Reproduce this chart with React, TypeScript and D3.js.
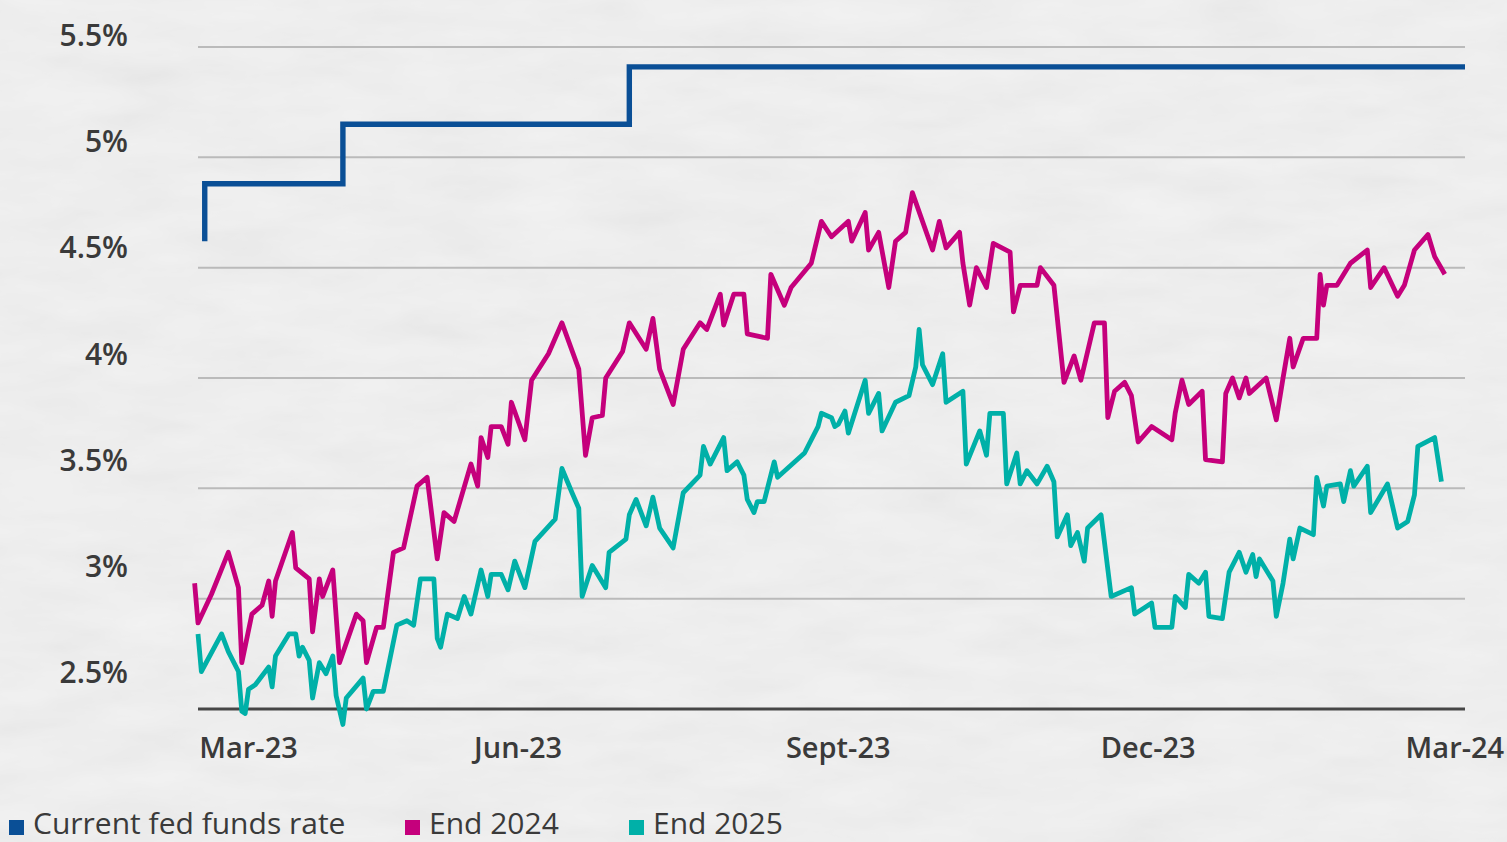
import React, { useEffect, useRef } from "react";
import * as d3 from "d3";

// x values are days counted from 1 Mar 2023, y values are rates in %
const fedFundsRate: [number, number][] = [
  [21, 4.62], [21, 4.88], [62, 5.15], [147, 5.41], [395, 5.41],
];

const end2024: [number, number][] = [
  [18, 3.07], [19, 2.89], [23, 3.02], [28, 3.21], [31, 3.05], [32, 2.71], [35, 2.93], [38, 2.97],
  [40, 3.08], [41, 2.92], [42, 3.08], [47, 3.3], [48, 3.14], [52, 3.09], [53, 2.85], [55, 3.09],
  [56, 3.01], [59, 3.13], [61, 2.71], [66, 2.93], [68, 2.9], [69, 2.71], [72, 2.87], [74, 2.87],
  [77, 3.21], [80, 3.23], [84, 3.51], [87, 3.55], [90, 3.18], [92, 3.39], [95, 3.35], [100, 3.61],
  [102, 3.51], [103, 3.73], [105, 3.64], [106, 3.78], [109, 3.78], [111, 3.7], [112, 3.89], [116, 3.72],
  [118, 3.99], [123, 4.11], [127, 4.25], [132, 4.04], [134, 3.65], [136, 3.82], [139, 3.83], [140, 4.0],
  [145, 4.12], [147, 4.25], [152, 4.13], [154, 4.27], [156, 4.04], [160, 3.88], [163, 4.13], [168, 4.25],
  [170, 4.22], [174, 4.38], [175, 4.24], [178, 4.38], [181, 4.38], [182, 4.2], [188, 4.18], [189, 4.47],
  [193, 4.33], [195, 4.41], [201, 4.52], [204, 4.71], [207, 4.64], [212, 4.71], [213, 4.62], [217, 4.75],
  [218, 4.58], [221, 4.66], [224, 4.41], [226, 4.62], [229, 4.66], [231, 4.84], [237, 4.58], [239, 4.71],
  [241, 4.59], [245, 4.66], [246, 4.52], [248, 4.33], [250, 4.5], [253, 4.41], [255, 4.61], [260, 4.57],
  [261, 4.3], [263, 4.42], [268, 4.42], [269, 4.5], [273, 4.42], [276, 3.98], [279, 4.1], [281, 3.99],
  [285, 4.25], [288, 4.25], [289, 3.82], [291, 3.94], [294, 3.98], [296, 3.92], [298, 3.71], [302, 3.78],
  [308, 3.72], [309, 3.84], [311, 3.99], [313, 3.88], [317, 3.94], [318, 3.63], [323, 3.62], [324, 3.93],
  [326, 4.0], [328, 3.91], [330, 4.0], [331, 3.93], [336, 4.0], [339, 3.81], [341, 4.0], [343, 4.18],
  [344, 4.05], [347, 4.18], [351, 4.18], [352, 4.47], [353, 4.33], [354, 4.42], [357, 4.42], [361, 4.52],
  [366, 4.58], [367, 4.41], [371, 4.5], [375, 4.37], [377, 4.42], [380, 4.58], [384, 4.65], [386, 4.55],
  [389, 4.47],
];

const end2025: [number, number][] = [
  [19, 2.84], [20, 2.67], [26, 2.84], [28, 2.76], [31, 2.67], [32, 2.49], [33, 2.48], [34, 2.59],
  [36, 2.61], [40, 2.69], [41, 2.6], [42, 2.74], [46, 2.84], [48, 2.84], [49, 2.74], [50, 2.78],
  [52, 2.72], [53, 2.55], [55, 2.71], [57, 2.66], [59, 2.74], [60, 2.56], [62, 2.43], [63, 2.55],
  [68, 2.64], [69, 2.5], [71, 2.58], [74, 2.58], [78, 2.88], [81, 2.9], [83, 2.88], [85, 3.09],
  [89, 3.09], [90, 2.82], [91, 2.78], [93, 2.93], [96, 2.91], [98, 3.01], [100, 2.93], [103, 3.13],
  [105, 3.01], [106, 3.11], [109, 3.11], [111, 3.04], [113, 3.17], [116, 3.05], [119, 3.26], [125, 3.36],
  [127, 3.59], [130, 3.48], [132, 3.41], [133, 3.01], [136, 3.15], [140, 3.05], [141, 3.21], [146, 3.27],
  [147, 3.38], [149, 3.45], [152, 3.33], [154, 3.46], [156, 3.32], [160, 3.23], [163, 3.48], [168, 3.56],
  [169, 3.69], [171, 3.61], [175, 3.73], [176, 3.58], [179, 3.62], [181, 3.56], [182, 3.45], [184, 3.39],
  [185, 3.44], [187, 3.44], [190, 3.62], [191, 3.55], [199, 3.66], [203, 3.78], [204, 3.84], [207, 3.82],
  [208, 3.78], [209, 3.79], [211, 3.85], [212, 3.75], [217, 3.99], [218, 3.84], [221, 3.93], [222, 3.76],
  [226, 3.89], [230, 3.92], [232, 4.05], [233, 4.22], [234, 4.06], [237, 3.97], [240, 4.11], [241, 3.89],
  [246, 3.94], [247, 3.61], [251, 3.76], [253, 3.65], [254, 3.84], [258, 3.84], [259, 3.52], [262, 3.66],
  [263, 3.52], [265, 3.58], [268, 3.52], [271, 3.6], [273, 3.53], [274, 3.28], [277, 3.38], [278, 3.24],
  [280, 3.3], [282, 3.17], [283, 3.32], [287, 3.38], [290, 3.01], [296, 3.05], [297, 2.93], [300, 2.96],
  [302, 2.98], [303, 2.87], [308, 2.87], [309, 3.01], [312, 2.96], [313, 3.11], [316, 3.07], [318, 3.12],
  [319, 2.92], [323, 2.91], [325, 3.12], [328, 3.21], [330, 3.12], [332, 3.2], [333, 3.1], [334, 3.18],
  [338, 3.08], [339, 2.92], [341, 3.07], [343, 3.27], [344, 3.18], [346, 3.32], [350, 3.29], [351, 3.55],
  [353, 3.42], [354, 3.51], [358, 3.52], [359, 3.44], [361, 3.58], [362, 3.51], [366, 3.6], [367, 3.39],
  [372, 3.52], [375, 3.32], [378, 3.35], [380, 3.47], [381, 3.69], [386, 3.73], [388, 3.53],
];

const yTicks = [2.5, 3, 3.5, 4, 4.5, 5, 5.5];
const yTickLabels = ["2.5%", "3%", "3.5%", "4%", "4.5%", "5%", "5.5%"];
const xTickDays = [34, 114, 209, 301, 392];
const xTickLabels = ["Mar-23", "Jun-23", "Sept-23", "Dec-23", "Mar-24"];
const seriesNames = ["Current fed funds rate", "End 2024", "End 2025"];

const COLORS = ["#0a4f96", "#c5007c", "#00b0a8"];
const FONT = "'Open Sans', 'Noto Sans', sans-serif";
const TEXT = "#3a3a3a";

function drawChart(node: HTMLDivElement | null) {
  if (!node) return;
  while (node.firstChild) node.removeChild(node.firstChild);

  const width = 1507;
  const height = 842;

  const svg = d3
    .select(node)
    .append("svg")
    .attr("width", width)
    .attr("height", height)
    .style("display", "block");

  // paper-like background
  const filter = svg
    .append("defs")
    .append("filter")
    .attr("id", "paper")
    .attr("x", 0)
    .attr("y", 0)
    .attr("width", "100%")
    .attr("height", "100%");
  filter
    .append("feTurbulence")
    .attr("type", "fractalNoise")
    .attr("baseFrequency", "0.01 0.035")
    .attr("numOctaves", 4)
    .attr("seed", 7);
  filter
    .append("feColorMatrix")
    .attr("type", "matrix")
    .attr("values", "0.33 0.33 0.33 0 0 0.33 0.33 0.33 0 0 0.33 0.33 0.33 0 0 0 0 0 0 1");

  svg.append("rect").attr("width", width).attr("height", height).attr("fill", "#f4f4f4");
  svg
    .append("rect")
    .attr("width", width)
    .attr("height", height)
    .attr("filter", "url(#paper)")
    .attr("opacity", 0.1);

  const x = d3.scaleLinear().domain([19, 395]).range([198, 1465]);
  const y = d3.scaleLinear().domain([2.5, 5.5]).range([709, 47]);
  // tick labels sit a little above their gridlines in the original
  const yLabel = d3.scaleLinear().domain([2.5, 5.5]).range([683, 46]);

  // gridlines
  svg
    .append("g")
    .selectAll("line")
    .data(yTicks.slice(1))
    .join("line")
    .attr("x1", x(19))
    .attr("x2", x(395))
    .attr("y1", (d) => y(d))
    .attr("y2", (d) => y(d))
    .attr("stroke", "#bababa")
    .attr("stroke-width", 2);

  // baseline
  svg
    .append("line")
    .attr("x1", x(19))
    .attr("x2", x(395))
    .attr("y1", y(2.5))
    .attr("y2", y(2.5))
    .attr("stroke", "#464646")
    .attr("stroke-width", 2.8);

  // y labels
  svg
    .append("g")
    .selectAll("text")
    .data(yTicks)
    .join("text")
    .attr("x", 128)
    .attr("y", (d) => yLabel(d))
    .attr("text-anchor", "end")
    .style("font-family", FONT)
    .style("font-size", "30px")
    .style("font-weight", 600)
    .attr("fill", TEXT)
    .text((d, i) => yTickLabels[i]);

  // x labels
  svg
    .append("g")
    .selectAll("text")
    .data(xTickDays)
    .join("text")
    .attr("x", (d) => x(d))
    .attr("y", 758)
    .attr("text-anchor", "middle")
    .style("font-family", FONT)
    .style("font-size", "29px")
    .style("font-weight", 600)
    .attr("fill", TEXT)
    .text((d, i) => xTickLabels[i]);

  const line = d3
    .line<[number, number]>()
    .x((d) => x(d[0]))
    .y((d) => y(d[1]));

  svg
    .append("path")
    .datum(end2025)
    .attr("d", line)
    .attr("fill", "none")
    .attr("stroke", COLORS[2])
    .attr("stroke-width", 4.8)
    .attr("stroke-linejoin", "round");

  svg
    .append("path")
    .datum(end2024)
    .attr("d", line)
    .attr("fill", "none")
    .attr("stroke", COLORS[1])
    .attr("stroke-width", 4.8)
    .attr("stroke-linejoin", "round");

  svg
    .append("path")
    .datum(fedFundsRate)
    .attr("d", line.curve(d3.curveStepAfter))
    .attr("fill", "none")
    .attr("stroke", COLORS[0])
    .attr("stroke-width", 5.4)
    .attr("stroke-linejoin", "miter");

  // legend, kept just inside the bottom edge
  const legendX = [9, 405, 629];
  const legend = svg
    .append("g")
    .selectAll("g")
    .data(seriesNames)
    .join("g")
    .attr("transform", (d, i) => `translate(${legendX[i]},820)`);
  legend
    .append("rect")
    .attr("width", 15)
    .attr("height", 15)
    .attr("fill", (d, i) => COLORS[i]);
  legend
    .append("text")
    .attr("x", 24)
    .attr("y", 14)
    .style("font-family", FONT)
    .style("font-size", "30px")
    .attr("fill", TEXT)
    .text((d) => d);
}

export default function App() {
  const chartRef = useRef<HTMLDivElement>(null);

  useEffect(() => {
    document.body.style.margin = "0";
    drawChart(chartRef.current);
  }, []);

  return <div ref={chartRef} style={{ width: 1507, height: 842, overflow: "hidden" }} />;
}
